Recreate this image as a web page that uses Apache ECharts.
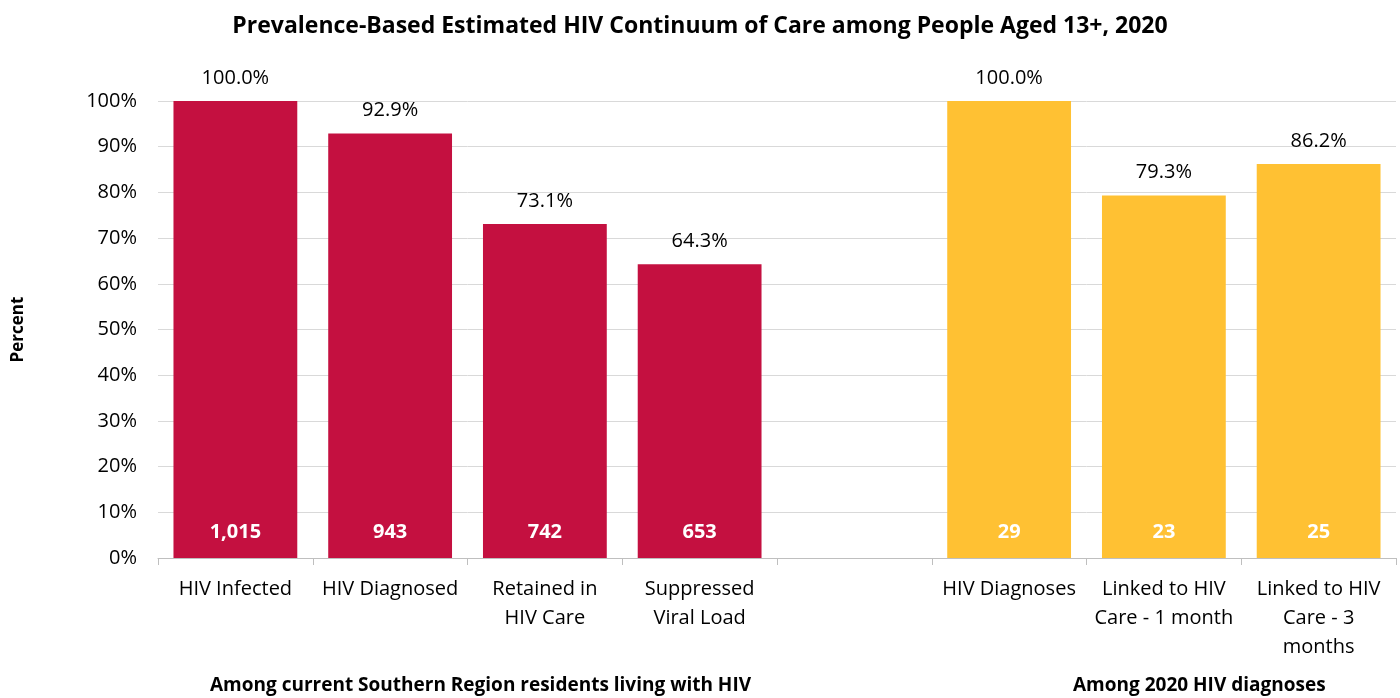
<!DOCTYPE html>
<html>
<head>
<meta charset="utf-8">
<script src="https://cdn.jsdelivr.net/npm/echarts@6/dist/echarts.min.js"></script>
<style>html,body{margin:0;padding:0;background:#fff}#c{width:1400px;height:698px}</style>
</head>
<body>
<div id="c"></div>
<script>
const categories = ['HIV Infected', 'HIV Diagnosed', 'Retained in\nHIV Care', 'Suppressed\nViral Load', '', 'HIV Diagnoses', 'Linked to HIV\nCare - 1 month', 'Linked to HIV\nCare - 3\nmonths'];
const percents = [100.0, 92.9, 73.1, 64.3, null, 100.0, 79.3, 86.2];
const counts = ['1,015', '943', '742', '653', '', '29', '23', '25'];
const groupColors = ['#C41040', '#C41040', '#C41040', '#C41040', null, '#FFC133', '#FFC133', '#FFC133'];
const yTicks = [0, 10, 20, 30, 40, 50, 60, 70, 80, 90, 100];
const titleText = 'Prevalence-Based Estimated HIV Continuum of Care among People Aged 13+, 2020';
const groupLabels = ['Among current Southern Region residents living with HIV', 'Among 2020 HIV diagnoses'];

const FONT = '"Open Sans", "Liberation Sans", sans-serif';
const chart = echarts.init(document.getElementById('c'));

const mainData = percents.map((v, i) => v === null ? '-' : { value: v, itemStyle: { color: groupColors[i] } });

chart.setOption({
  animation: false,
  title: {
    text: titleText, left: 'center', top: 10,
    textStyle: { fontFamily: FONT, fontSize: 23, fontWeight: 'bold', color: '#000' }
  },
  grid: { left: 158, right: 4, top: 101, bottom: 140 },
  xAxis: {
    type: 'category', data: categories,
    axisLine: { lineStyle: { color: '#BFBFBF', width: 1 } },
    axisTick: { show: true, length: 7, lineStyle: { color: '#BFBFBF' } },
    axisLabel: { interval: 0, margin: 17, fontFamily: FONT, fontSize: 20, color: '#000', lineHeight: 29 }
  },
  yAxis: {
    type: 'value', min: 0, max: 100, interval: 10,
    name: 'Percent', nameLocation: 'middle', nameGap: 131, nameRotate: 90,
    nameTextStyle: { fontFamily: FONT, fontSize: 17, fontWeight: 'bold', color: '#000' },
    axisLine: { show: false }, axisTick: { show: false },
    axisLabel: { fontFamily: FONT, fontSize: 20, color: '#000', margin: 21, formatter: v => yTicks.includes(v) ? v + '%' : '' },
    splitLine: { lineStyle: { color: '#D9D9D9' } }
  },
  series: [
    {
      type: 'bar', data: mainData, barWidth: '80%',
      label: { show: true, position: 'top', distance: 13, fontFamily: FONT, fontSize: 20, color: '#000',
        formatter: p => p.value.toFixed(1) + '%' }
    },
    {
      type: 'bar', data: percents.map(v => v === null ? '-' : v), barWidth: '80%', barGap: '-100%',
      itemStyle: { color: 'rgba(0,0,0,0)' }, silent: true,
      label: { show: true, position: 'insideBottom', distance: 16, fontFamily: FONT, fontSize: 20, fontWeight: 'bold', color: '#fff',
        formatter: p => counts[p.dataIndex] }
    }
  ],
  graphic: [
    { type: 'text', left: 210, top: 676, style: { text: groupLabels[0], font: 'bold 19px ' + FONT, fill: '#000' } },
    { type: 'text', left: 1073, top: 676, style: { text: groupLabels[1], font: 'bold 19px ' + FONT, fill: '#000' } }
  ]
});
</script>
</body>
</html>
